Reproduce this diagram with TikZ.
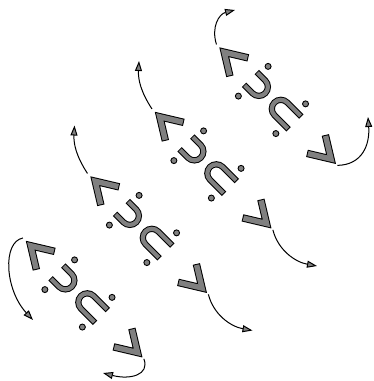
\documentclass[tikz,border=0pt]{standalone}
\usetikzlibrary{arrows.meta}
\definecolor{glyphgray}{gray}{0.5}
\tikzset{
  gout/.style={line width=6.2pt, draw=black, line join=miter, line cap=butt},
  gin/.style={line width=4.2pt, draw=glyphgray, line join=miter, line cap=butt, shorten <=1pt, shorten >=1pt},
  cout/.style={line width=7.4pt, draw=black, line join=miter, line cap=butt},
  cin/.style={line width=5.4pt, draw=glyphgray, line join=miter, line cap=butt, shorten <=1pt, shorten >=1pt},
  gdot/.style={draw=black, fill=glyphgray, line width=0.9pt},
  conn/.style={line width=1pt, -{Triangle[length=10pt,width=7pt,fill=glyphgray]}},
  glyphrow/.pic={
    \coordinate (-a) at (-5,0);
    \coordinate (-b) at (166,0);
    % left chevron
    \path[cout] (27,13) -- (6,0) -- (27,-13);
    \path[cin]  (27,13) -- (6,0) -- (27,-13);
    % U with dots
    \path[gout] (43,9) -- (55,9) arc[start angle=90, end angle=-90, radius=9] -- (43,-9);
    \path[gin]  (43,9) -- (55,9) arc[start angle=90, end angle=-90, radius=9] -- (43,-9);
    \path[gdot] (47,21) circle[radius=3];
    \path[gdot] (47,-21) circle[radius=3];
    % n with dots
    \path[gout] (106,9) -- (86,9) arc[start angle=90, end angle=270, radius=9] -- (106,-9);
    \path[gin]  (106,9) -- (86,9) arc[start angle=90, end angle=270, radius=9] -- (106,-9);
    \path[gdot] (100,21) circle[radius=3];
    \path[gdot] (100,-21) circle[radius=3];
    % right chevron
    \path[cout] (136,13) -- (157,0) -- (136,-13);
    \path[cin]  (136,13) -- (157,0) -- (136,-13);
  }
}
\begin{document}
\begin{tikzpicture}[x=1pt,y=1pt]
\useasboundingbox (0,0) rectangle (373,-381);
\pic[rotate=-45] (r1) at (220,-48) {glyphrow};
\pic[rotate=-45] (r2) at (155.5,-112.5) {glyphrow};
\pic[rotate=-45] (r3) at (91,-177) {glyphrow};
\pic[rotate=-45] (r4) at (26.5,-241.5) {glyphrow};
% arrow end points
\coordinate (e1a) at (235,-10);
\coordinate (e1b) at (368,-117);
\coordinate (e2a) at (139,-61);
\coordinate (e2b) at (317,-266);
\coordinate (e3a) at (74.5,-125.5);
\coordinate (e3b) at (252.5,-330.5);
\coordinate (e4a) at (33,-320);
\coordinate (e4b) at (103,-373);
% connectors
\draw[conn] (r1-a) .. controls (211,-27) and (219,-14) .. (e1a);
\draw[conn] (r1-b) .. controls (362,-165) and (370,-145) .. (e1b);
\draw[conn] (r2-a) .. controls (141,-92) and (138,-80) .. (e2a);
\draw[conn] (r2-b) .. controls (278,-250) and (295,-262) .. (e2b);
\draw[conn] (r3-a) .. controls (76.5,-156.5) and (73.5,-144.5) .. (e3a);
\draw[conn] (r3-b) .. controls (213.5,-314.5) and (230.5,-326.5) .. (e3b);
\draw[conn] (r4-a) .. controls (2,-242) and (5,-290) .. (e4a);
\draw[conn] (r4-b) .. controls (150,-375) and (130,-380) .. (e4b);
\end{tikzpicture}
\end{document}
